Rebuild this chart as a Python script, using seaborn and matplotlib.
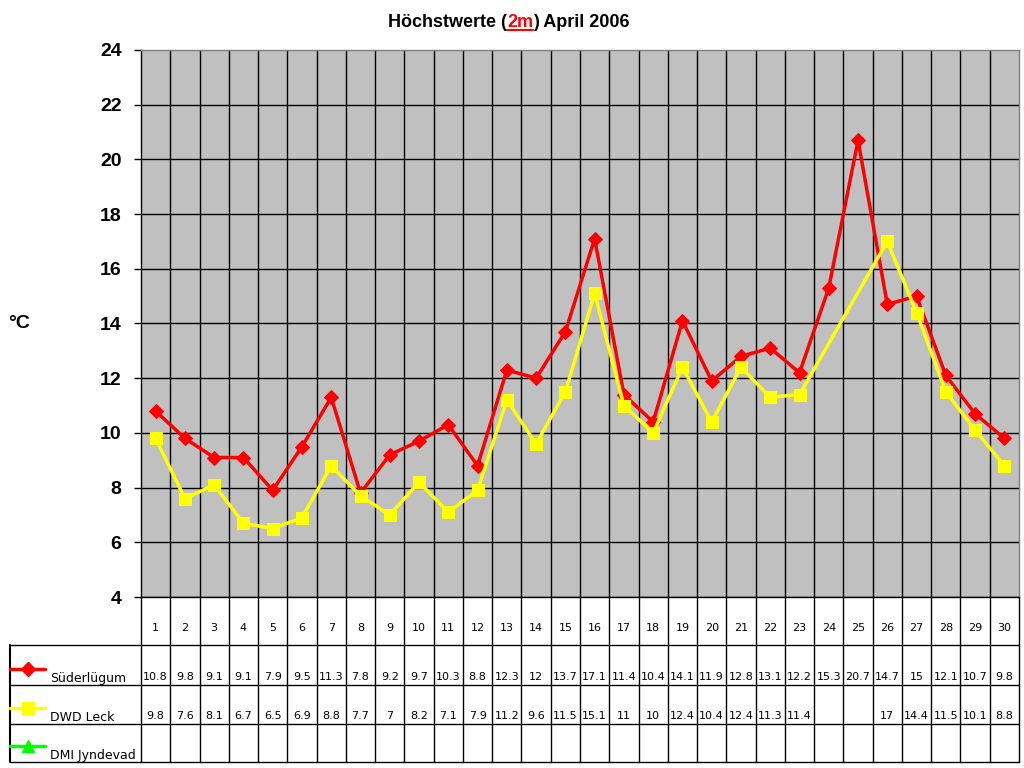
import matplotlib
matplotlib.use('Agg')
import matplotlib.pyplot as plt
import numpy as np
import pandas as pd
import seaborn as sns
from matplotlib.lines import Line2D

days = list(range(1, 31))
suederluegum = [10.8, 9.8, 9.1, 9.1, 7.9, 9.5, 11.3, 7.8, 9.2, 9.7, 10.3, 8.8, 12.3, 12, 13.7,
                17.1, 11.4, 10.4, 14.1, 11.9, 12.8, 13.1, 12.2, 15.3, 20.7, 14.7, 15, 12.1, 10.7, 9.8]
dwd_leck = [9.8, 7.6, 8.1, 6.7, 6.5, 6.9, 8.8, 7.7, 7, 8.2, 7.1, 7.9, 11.2, 9.6, 11.5,
            15.1, 11, 10, 12.4, 10.4, 12.4, 11.3, 11.4, np.nan, np.nan, 17, 14.4, 11.5, 10.1, 8.8]
dmi_jyndevad = [np.nan] * 30
series_names = ['Süderlügum', 'DWD Leck', 'DMI Jyndevad']
yticks = list(range(4, 25, 2))

sns.set_style('white', rc={'text.color': 'black', 'axes.labelcolor': 'black',
                           'xtick.color': 'black', 'ytick.color': 'black'})
plt.rcParams['font.family'] = ['Liberation Sans', 'DejaVu Sans']

df = pd.DataFrame({'day': days, series_names[0]: suederluegum,
                   series_names[1]: dwd_leck, series_names[2]: dmi_jyndevad})

fig = plt.figure(figsize=(10.24, 7.68), dpi=100)
W, H = 1024, 768
L, R, T, B = 141, 1019, 50, 597
ax = fig.add_axes([L / W, 1 - B / H, (R - L) / W, (B - T) / H])
ax.set_facecolor('#C0C0C0')

styles = [('#FF0000', 'D', 7), ('#FFFF00', 's', 9), ('#00FF00', '^', 9)]
for name, (col, mk, ms) in zip(series_names, styles):
    sub = df[['day', name]].dropna()
    if len(sub):
        sns.lineplot(data=sub, x='day', y=name, ax=ax, color=col, marker=mk, markersize=ms,
                     markeredgecolor=col, linewidth=2.5, zorder=3)

ax.set_xlim(0.5, 30.5)
ax.set_ylim(4, 24)
ax.set_yticks(yticks)
ax.set_yticklabels([str(v) for v in yticks], fontsize=14, fontweight='bold', color='black')
ax.tick_params(axis='y', length=5, width=1, pad=9, color='black', left=True)
ax.set_xticks([])
for xb in np.arange(1.5, 30.5, 1):
    ax.axvline(xb, color='black', lw=1, zorder=1)
for yv in yticks[:-1]:
    ax.axhline(yv, color='black', lw=1, zorder=1)
for side, s in ax.spines.items():
    s.set_linewidth(1)
    s.set_color('black' if side in ('left', 'bottom') else '#808080')
ax.set_xlabel('')
ax.set_ylabel('')
fig.text(8 / W, 1 - 323 / H, '°C', fontsize=14, fontweight='bold', va='center', ha='left',
         color='black')

# table below
px = (R - L) / 30
xmin = 0.5 - (L - 10) / px
tab = fig.add_axes([10 / W, 1 - 766 / H, (R - 10) / W, (766 - B) / H])
tab.set_xlim(xmin, 30.5)
tab.set_ylim(766, B)
tab.axis('off')
rows = [B, 645, 685, 724, 762]
for xb in np.arange(0.5, 31, 1):
    tab.plot([xb, xb], [B, 762], color='black', lw=1, clip_on=False)
tab.plot([xmin, xmin], [645, 762], color='black', lw=1.5, clip_on=False)
for yv in rows[1:]:
    tab.plot([xmin, 30.5], [yv, yv], color='black', lw=1, clip_on=False)

tfont = ['DejaVu Sans']
for d in days:
    tab.text(d, 628, str(d), ha='center', va='center', fontsize=8, family=tfont, color='black')
for r, vals in enumerate([suederluegum, dwd_leck, dmi_jyndevad]):
    yb = rows[r + 2]
    for d, v in zip(days, vals):
        if not np.isnan(v):
            tab.text(d, yb - 8, f'{v:g}', ha='center', va='center', fontsize=8, family=tfont,
                     color='black')
    col, mk, ms = styles[r]
    lx0 = xmin + 0 / px
    lx1 = xmin + 35 / px
    ly = yb - 16
    tab.add_line(Line2D([lx0, lx1], [ly, ly], color=col, lw=2.5, clip_on=False))
    tab.add_line(Line2D([(lx0 + lx1) / 2], [ly], color=col, marker=mk, markersize=ms,
                        markeredgecolor=col, clip_on=False))
    tab.text(xmin + 40 / px, yb - 7, series_names[r], ha='left', va='center', fontsize=9,
             family=tfont, color='black')

# title with red underlined "2m"
ty = 1 - 27 / H
t1 = fig.text(388 / W, ty, 'Höchstwerte (', fontsize=13, fontweight='bold', va='baseline',
              color='black')
fig.canvas.draw()
r = fig.canvas.get_renderer()
e1 = t1.get_window_extent(r)
t2 = fig.text(e1.x1 / W, ty, '2m', fontsize=13, fontweight='bold', va='baseline', color='red')
e2 = t2.get_window_extent(r)
t3 = fig.text(e2.x1 / W, ty, ') April 2006', fontsize=13, fontweight='bold', va='baseline',
              color='black')
uy = ty - 3 / H
fig.add_artist(Line2D([e2.x0 / W, e2.x1 / W], [uy, uy], color='red', lw=1.5))

fig.savefig('out.png', dpi=100)
